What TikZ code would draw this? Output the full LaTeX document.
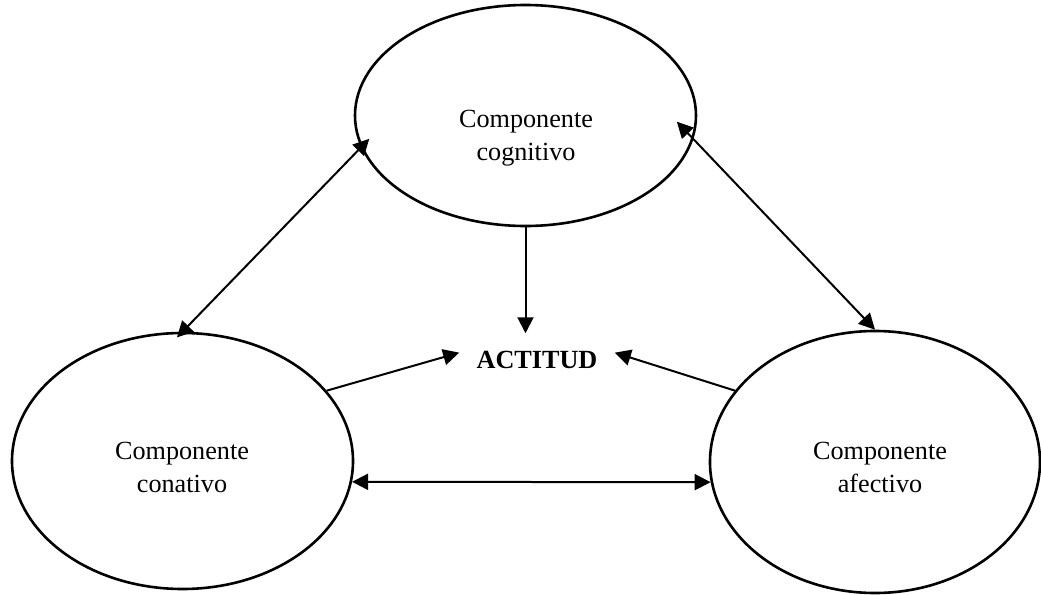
\documentclass[tikz,border=0pt]{standalone}
\usepackage{fontspec}
\setmainfont{Liberation Serif}
\usetikzlibrary{shapes.geometric,arrows.meta}

\tikzset{%
		every componente/.style={
			ellipse,
			draw,
			line width=1.3pt,
			inner sep=0pt
		},
		etiqueta/.style={
			align=center,
			anchor=base,
			inner sep=0pt,
			font=\fontsize{13.1}{16.5}\selectfont
		},
		actitud/.style={
			font=\fontsize{13.1}{16.5}\selectfont\bfseries,
			inner sep=8.5pt
		},
		flecha/.style={
			line width=1pt
		},
	}

\begin{document}
\begin{tikzpicture}[x=0.5pt, y=-0.5pt, >={Triangle[length=8pt,width=8pt]}]
			\useasboundingbox (0,0) rectangle (1041,595);
			
			% draw the three components
			\foreach \m/\x/\y/\w/\h in {cog/525.5/115.5/170.5/110.5, con/182.5/461/170.5/128, afe/875/462/165/131}
			\node [every componente/.try, minimum width=\w pt, minimum height=\h pt] (\m) at (\x,\y) {};
			
			% annotate components
			\foreach \m/\l/\x/\y in {cog/cognitivo/526/160, con/conativo/182/492, afe/afectivo/880/492}
			\node [etiqueta] (\m-texto) at (\x,\y) {Componente\\\l};
			
			% central node
			\node [actitud, anchor=base] (act) at (537,368) {ACTITUD};
			
			% double arrows between components
			\draw [flecha, <->, shorten <=-6pt, shorten >=-4pt] (cog.191) -- (con.north);
			\draw [flecha, <->, shorten <=-12pt] (cog.-8) -- (afe.north);
			\draw [flecha, <->] (con.-7.5) -- (afe.187);
			
			% arrows into ACTITUD
			\draw [flecha, ->] (cog.south) -- (cog.south |- act.north);
			\draw [flecha, ->] (con.26) -- (act.175);
			\draw [flecha, ->] (afe.153) -- (act.5);
			\end{tikzpicture}
\end{document}
